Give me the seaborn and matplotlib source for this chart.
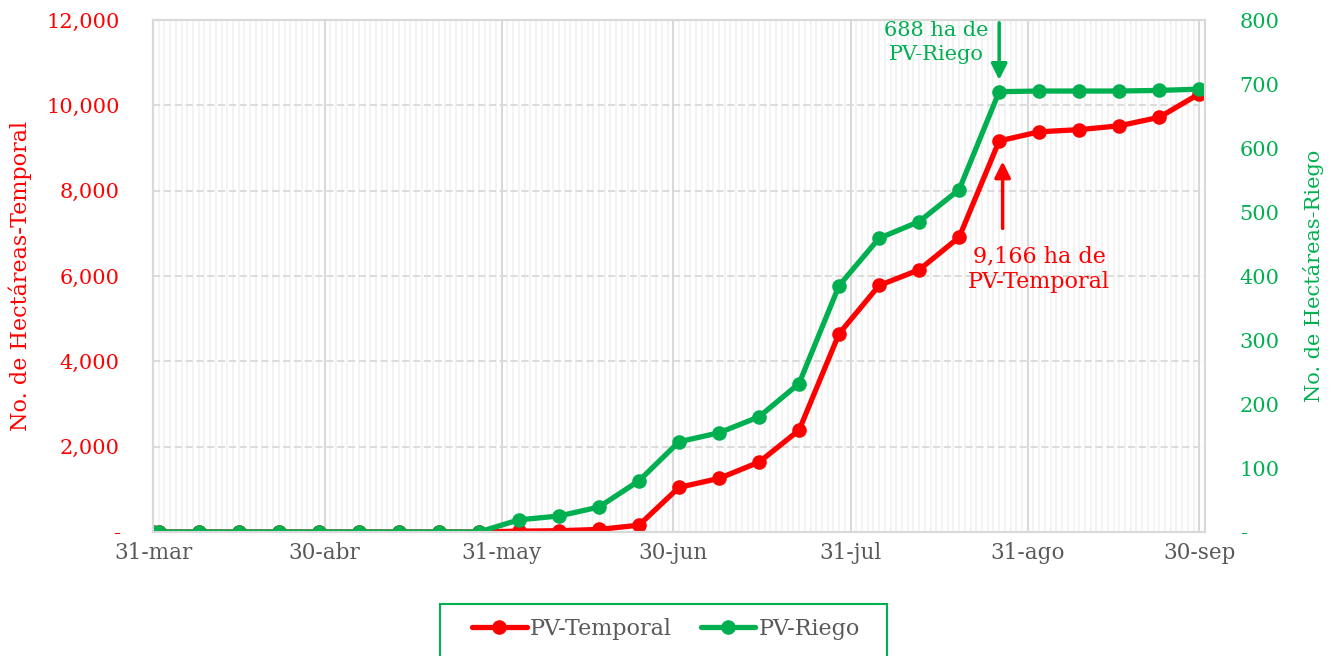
import matplotlib
matplotlib.use("Agg")
import matplotlib.pyplot as plt
import matplotlib.dates as mdates
from matplotlib.patches import Rectangle
import seaborn as sns
import pandas as pd

dates = ["2019-03-31", "2019-04-01", "2019-04-08", "2019-04-15", "2019-04-22",
         "2019-04-29", "2019-05-06", "2019-05-13", "2019-05-20", "2019-05-27",
         "2019-06-03", "2019-06-10", "2019-06-17", "2019-06-24", "2019-07-01",
         "2019-07-08", "2019-07-15", "2019-07-22", "2019-07-29", "2019-08-05",
         "2019-08-12", "2019-08-19", "2019-08-26", "2019-09-02", "2019-09-09",
         "2019-09-16", "2019-09-23", "2019-09-30"]
temporal = [0, 0, 0, 0, 0, 0, 0, 0, 0, 0,
            20, 30, 60, 160, 1046, 1256, 1637, 2386, 4648, 5778,
            6145, 6908, 9166, 9380, 9430, 9520, 9720, 10270]
riego = [0, 0, 0, 0, 0, 0, 0, 0, 0, 0,
         19, 25, 39, 80, 141, 155, 180, 232, 385, 459,
         485, 535, 688, 689, 689, 689, 690, 692]
tick_dates = ["2019-03-31", "2019-04-30", "2019-05-31", "2019-06-30",
              "2019-07-31", "2019-08-31", "2019-09-30"]
tick_labels = ["31-mar", "30-abr", "31-may", "30-jun", "31-jul", "31-ago", "30-sep"]
left_ticks = [0, 2000, 4000, 6000, 8000, 10000, 12000]
right_ticks = [0, 100, 200, 300, 400, 500, 600, 700, 800]

RED = "#ff0000"
GREEN = "#00b050"
GRAY = "#595959"
GRID = "#d9d9d9"

sns.set_style("white")
plt.rcParams["font.family"] = ["DejaVu Serif", "DejaVu Sans"]

df = pd.DataFrame({"fecha": pd.to_datetime(dates), "PV-Temporal": temporal, "PV-Riego": riego})

W, H = 1337, 656
fig = plt.figure(figsize=(W / 100, H / 100), dpi=100)
ax = fig.add_axes([153 / W, 1 - 532 / H, (1205 - 153) / W, (532 - 20) / H])
ax2 = ax.twinx()

sns.lineplot(data=df, x="fecha", y="PV-Temporal", ax=ax, color=RED, lw=3.8,
             marker="o", markersize=10.5, markeredgewidth=0, label="PV-Temporal", legend=False)
sns.lineplot(data=df, x="fecha", y="PV-Riego", ax=ax2, color=GREEN, lw=3.8,
             marker="o", markersize=10.5, markeredgewidth=0, label="PV-Riego", legend=False)

x0 = mdates.date2num(pd.Timestamp("2019-03-31"))
x1 = mdates.date2num(pd.Timestamp("2019-10-01"))
ax.set_xlim(x0, x1)
ax.set_ylim(0, 12000)
ax2.set_ylim(0, 800)

ax.set_xticks([mdates.date2num(pd.Timestamp(d)) for d in tick_dates])
ax.set_xticklabels(tick_labels)
ax.xaxis.set_minor_locator(mdates.DayLocator())

ax.set_yticks(left_ticks)
ax.set_yticklabels(["-" if v == 0 else f"{v:,}" for v in left_ticks])
ax2.set_yticks(right_ticks)
ax2.set_yticklabels(["-" if v == 0 else f"{v}" for v in right_ticks])

ax.grid(which="minor", axis="x", color="#f2f2f2", lw=1.3)
ax.grid(which="major", axis="x", color=GRID, lw=1.5)
ax.grid(which="major", axis="y", color=GRID, lw=1.3, ls=(0, (4, 2)))
ax.set_axisbelow(True)

ax.tick_params(axis="x", which="major", colors=GRID, labelcolor=GRAY, labelsize=15.5,
               length=4.5, width=1.5, direction="out", pad=2.5)
ax.tick_params(axis="x", which="minor", length=0)
ax.tick_params(axis="y", length=0, labelcolor=RED, labelsize=15, pad=24)
ax2.tick_params(axis="y", length=0, labelcolor=GREEN, labelsize=15, pad=25)

for a in (ax, ax2):
    for s in a.spines.values():
        s.set_color(GRID)
        s.set_linewidth(1.5)

ax.set_xlabel("")
ax.set_ylabel("No. de Hectáreas-Temporal", color=RED, fontsize=16, labelpad=10)
ax2.set_ylabel("No. de Hectáreas-Riego", color=GREEN, fontsize=15, labelpad=17)

# annotations
xa = mdates.date2num(pd.Timestamp("2019-08-26"))
ax2.annotate("", xy=(xa, 702), xytext=(xa, 800), annotation_clip=False,
             arrowprops=dict(arrowstyle="-|>", color=GREEN, lw=2.5, mutation_scale=24))
ax2.text(mdates.date2num(pd.Timestamp("2019-08-15")), 765, "688 ha de\nPV-Riego",
         color=GREEN, fontsize=15, ha="center", va="center", linespacing=1.3)
xr = mdates.date2num(pd.Timestamp("2019-08-26")) + 0.6
ax.annotate("", xy=(xr, 8750), xytext=(xr, 7050),
            arrowprops=dict(arrowstyle="-|>", color=RED, lw=2.5, mutation_scale=24))
ax.text(mdates.date2num(pd.Timestamp("2019-09-02")), 6150, "9,166 ha de\nPV-Temporal",
        color=RED, fontsize=16, ha="center", va="center", linespacing=1.2)

h1, l1 = ax.get_legend_handles_labels()
h2, l2 = ax2.get_legend_handles_labels()
leg = fig.legend(h1 + h2, l1 + l2, loc="center", bbox_to_anchor=(666 / W, 1 - 629 / H),
                 ncol=2, frameon=False, fontsize=16, handlelength=2.45, columnspacing=1.3,
                 handletextpad=0.15, borderpad=0, borderaxespad=0, labelcolor=GRAY)
fig.patches.append(Rectangle((440 / W, -0.01), (887 - 440) / W, (656 - 604) / H + 0.01,
                             transform=fig.transFigure, fill=False, edgecolor=GREEN,
                             lw=1.5, clip_on=False))

fig.savefig("out.png", dpi=100)
